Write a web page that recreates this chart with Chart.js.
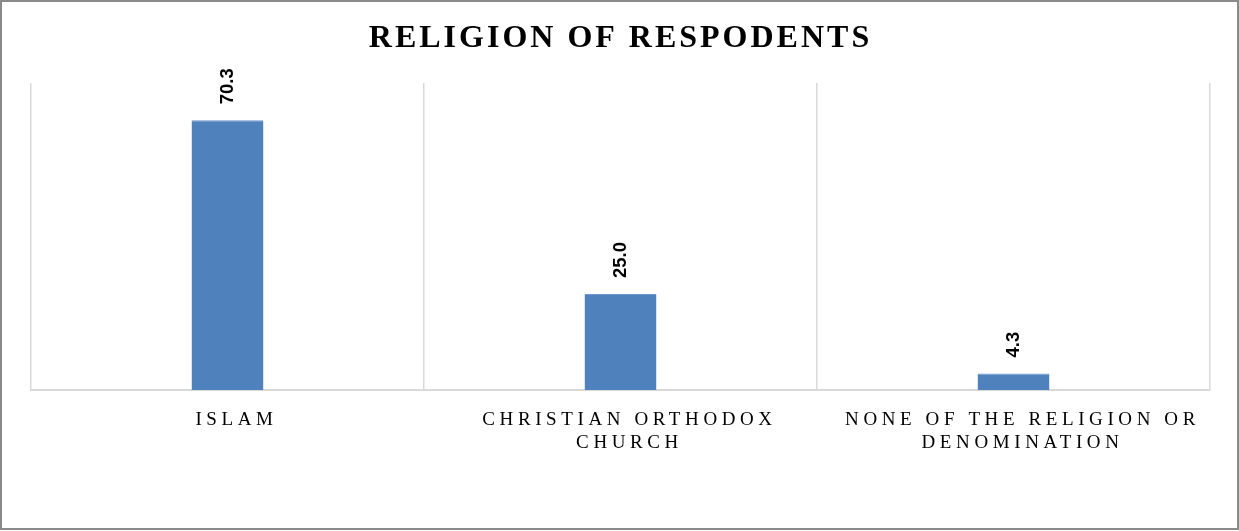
<!DOCTYPE html>
<html>
<head>
<meta charset="utf-8">
<script src="https://cdn.jsdelivr.net/npm/chart.js@4"></script>
<style>
  html, body { margin: 0; padding: 0; background: #fff; }
  #wrap { width: 1239px; height: 531px; position: relative; }
</style>
</head>
<body>
<div id="wrap"><canvas id="c" width="1239" height="531"></canvas></div>
<script>
const titleText = 'RELIGION OF RESPODENTS';
const categories = [
  ['ISLAM'],
  ['CHRISTIAN ORTHODOX', 'CHURCH'],
  ['NONE OF THE RELIGION OR', 'DENOMINATION']
];
const values = [70.3, 25.0, 4.3];
const valueLabels = ['70.3', '25.0', '4.3'];

const spacingPlugin = {
  id: 'spacing',
  beforeDraw(chart) {
    const ctx = chart.ctx;
    if (!ctx.__wrapped) {
      const orig = ctx.fillText;
      ctx.fillText = function (t, x, y, m) {
        const f = this.font;
        let dx = 0;
        if (f.indexOf('32px') >= 0) this.letterSpacing = '3px';
        else if (f.indexOf('19px') >= 0 && f.indexOf('Serif') >= 0) { this.letterSpacing = '4.6px'; dx = 9; }
        else this.letterSpacing = '0px';
        return m === undefined ? orig.call(this, t, x + dx, y) : orig.call(this, t, x + dx, y, m);
      };
      ctx.__wrapped = true;
    }
    ctx.save();
    ctx.strokeStyle = '#8a8a8a';
    ctx.lineWidth = 2;
    ctx.strokeRect(1, 1, chart.width - 2, chart.height - 3);
    ctx.restore();
  },
  afterDatasetsDraw(chart) {
    const ctx = chart.ctx;
    const meta = chart.getDatasetMeta(0);
    ctx.save();
    ctx.font = "bold 18.5px 'Liberation Sans', Arial, sans-serif";
    ctx.fillStyle = '#000';
    ctx.textAlign = 'left';
    ctx.textBaseline = 'middle';
    meta.data.forEach((bar, i) => {
      ctx.save();
      ctx.translate(bar.x, bar.y - 16);
      ctx.rotate(-Math.PI / 2);
      ctx.fillText(valueLabels[i], 0, 0);
      ctx.restore();
    });
    ctx.restore();
  }
};

new Chart(document.getElementById('c'), {
  type: 'bar',
  data: {
    labels: categories,
    datasets: [{
      data: values,
      backgroundColor: '#4F81BD',
      borderColor: '#6d97cc',
      borderWidth: { top: 1, left: 0, right: 0, bottom: 0 },
      categoryPercentage: 1,
      barPercentage: 0.183
    }]
  },
  options: {
    responsive: false,
    animation: false,
    layout: { padding: { left: 31, right: 29, top: 0, bottom: 0 } },
    plugins: {
      legend: { display: false },
      tooltip: { enabled: false },
      title: {
        display: true,
        text: titleText,
        color: '#000',
        font: { family: "'Liberation Serif', 'Times New Roman', serif", size: 32, weight: 'bold', lineHeight: 1.2 },
        padding: { top: 20, bottom: 24.6 }
      }
    },
    scales: {
      y: { display: false, min: 0, max: 80 },
      x: {
        offset: true,
        grid: { display: true, offset: true, color: '#d9d9d9', lineWidth: 1.5, drawTicks: false },
        border: { display: true, color: '#d9d9d9', width: 2 },
        ticks: {
          color: '#000',
          maxRotation: 0,
          autoSkip: false,
          padding: 19,
          font: { family: "'Liberation Serif', 'Times New Roman', serif", size: 19, lineHeight: 1.2 }
        },
        afterFit(scale) { scale.height = 141; }
      }
    }
  },
  plugins: [spacingPlugin]
});
</script>
</body>
</html>
